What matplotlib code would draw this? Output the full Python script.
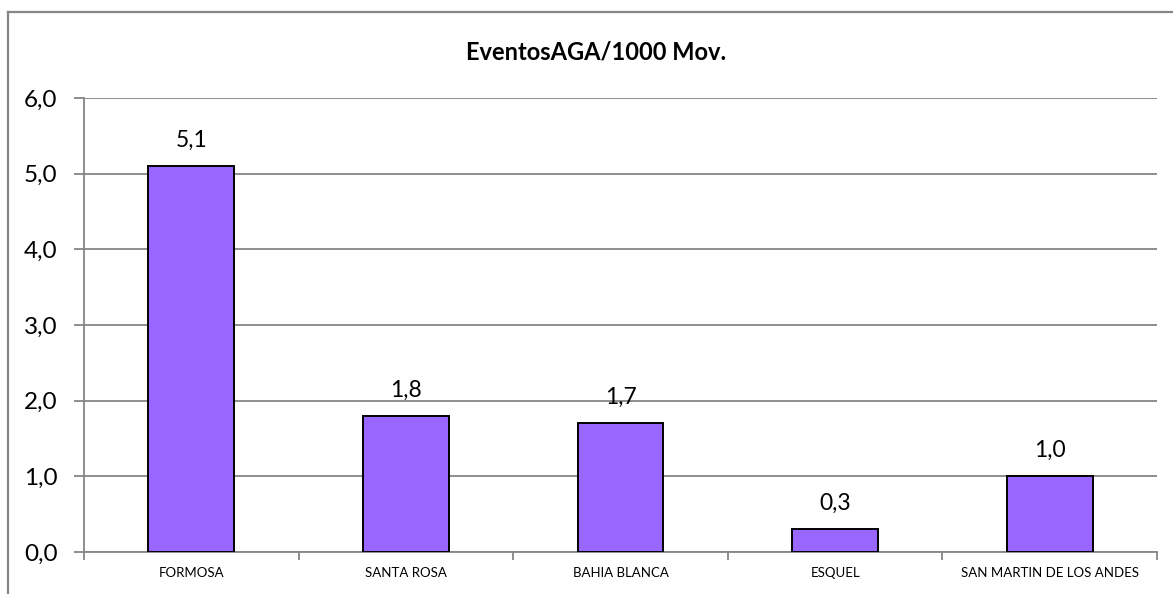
import matplotlib
matplotlib.use('Agg')
import matplotlib.pyplot as plt
from matplotlib.lines import Line2D
import numpy as np

# data
airports = ['FORMOSA', 'SANTA ROSA', 'BAHIA BLANCA', 'ESQUEL', 'SAN MARTIN DE LOS ANDES']
eventos = [5.1, 1.8, 1.7, 0.3, 1.0]
y_ticks = [0, 1, 2, 3, 4, 5, 6]

plt.rcParams['font.family'] = ['Lato', 'DejaVu Sans']
gray = '#868686'

W, H = 1173, 594
fig = plt.figure(figsize=(W / 100, H / 100), dpi=100)
fig.patch.set_facecolor('white')

# chart area border (cropped on right and bottom)
fig.add_artist(Line2D([8 / W, 1.0], [1 - 12 / H, 1 - 12 / H], color=gray, lw=1.6))
fig.add_artist(Line2D([8 / W, 8 / W], [0, 1 - 12 / H], color=gray, lw=1.6))

left, right, top, bottom = 84, 1157, 98, 552
ax = fig.add_axes([left / W, 1 - bottom / H, (right - left) / W, (bottom - top) / H])

x = np.arange(len(airports))
ax.bar(x, eventos, width=0.4, color='#9966FF', edgecolor='black', linewidth=1.4, zorder=3)

for xi, v in zip(x, eventos):
    ax.annotate(f'{v:.1f}'.replace('.', ','), (xi, v), xytext=(0, 11), textcoords='offset points',
                ha='center', va='bottom', fontsize=16.5, color='black')

ax.set_xlim(-0.5, len(airports) - 0.5)
ax.set_ylim(0, 6)
ax.set_yticks(y_ticks)
ax.set_yticklabels([f'{t:.1f}'.replace('.', ',') for t in y_ticks], fontsize=17.5)
ax.yaxis.grid(True, color=gray, lw=1.3, zorder=0)

ax.set_xticks(x)
ax.set_xticklabels(airports, fontsize=9.5)
ax.set_xticks(np.arange(len(airports) + 1) - 0.5, minor=True)
ax.tick_params(axis='x', which='major', length=0, pad=11)
ax.tick_params(axis='x', which='minor', length=6, color=gray, width=1.3, direction='out')
ax.tick_params(axis='y', length=7, color=gray, width=1.3, pad=12)

for s in ['top', 'right']:
    ax.spines[s].set_visible(False)
for s in ['left', 'bottom']:
    ax.spines[s].set_color(gray)
    ax.spines[s].set_linewidth(1.3)

fig.text(596 / W, 1 - 52 / H, 'EventosAGA/1000 Mov.', ha='center', va='center',
         fontsize=17, fontweight='bold')

fig.savefig('out.png', dpi=100)
